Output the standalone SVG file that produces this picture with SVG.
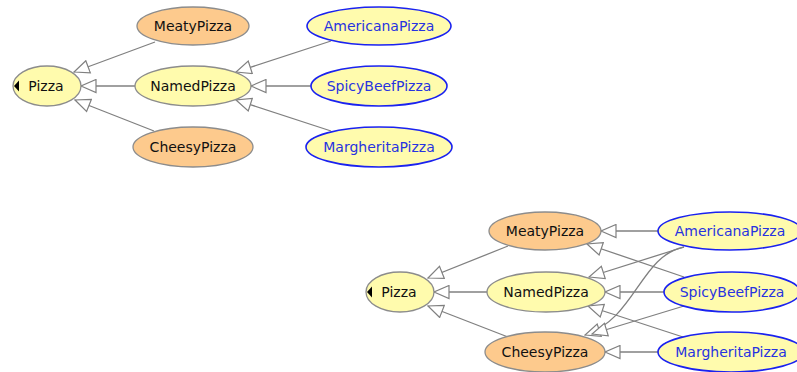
<svg xmlns="http://www.w3.org/2000/svg" width="797" height="372" viewBox="0 0 797 372">
  <style>
    .edge { fill: none; stroke: #808080; stroke-width: 1.3; marker-end: url(#open); }
    .defined ellipse { fill: #fdca8d; stroke: #8c8c8c; stroke-width: 1.3; }
    .plain ellipse { fill: #fffbad; stroke: #8c8c8c; stroke-width: 1.3; }
    .prim ellipse { fill: #fffbad; stroke: #1a22f0; stroke-width: 1.6; }
    text { font-family: "DejaVu Sans", "Liberation Sans", sans-serif; font-size: 14px; text-anchor: middle; fill: #111; }
    .prim text { fill: #2733e0; }
    .tri { fill: #000; }
  </style>
  <defs>
    <marker id="open" markerUnits="userSpaceOnUse" markerWidth="17" markerHeight="15" viewBox="-1 -1 17 15" refX="15" refY="6.5" orient="auto">
      <path d="M15,6.5 L0,0 L0,13 Z" fill="#fff" stroke="#808080" stroke-width="1.2" stroke-linejoin="miter"/>
    </marker>
  </defs>

  <!-- subclass links -->
  <g id="connectors">
    <path class="edge" d="M155,42 L74,72"/>
    <path class="edge" d="M135,86 L81,86"/>
    <path class="edge" d="M154,131 L75,100"/>
    <path class="edge" d="M331,41 L236,72"/>
    <path class="edge" d="M311,86 L251,86"/>
    <path class="edge" d="M331,131 L236,100"/>

    <path class="edge" d="M508,246 L428,278"/>
    <path class="edge" d="M487,292 L434,292"/>
    <path class="edge" d="M508,337 L428,306"/>
    <path class="edge" d="M658,231 L601,231"/>
    <path class="edge" d="M684,247 L589,277"/>
    <path class="edge" d="M684,247 C640,256 636,318 585,335"/>
    <path class="edge" d="M684,277 L587,244"/>
    <path class="edge" d="M664,292 L605,292"/>
    <path class="edge" d="M684,306 L592,334"/>
    <path class="edge" d="M683,337 L588,306"/>
    <path class="edge" d="M658,352 L605,352"/>
  </g>

  <!-- upper hierarchy -->
  <g id="pizza1" class="plain">
    <ellipse cx="47" cy="86" rx="34" ry="20"/>
    <path class="tri" d="M14,86 L19,80.5 L19,91.5 Z"/>
    <text x="46" y="91">Pizza</text>
  </g>
  <g id="meaty1" class="defined">
    <ellipse cx="193" cy="26" rx="56" ry="19"/>
    <text x="193" y="31">MeatyPizza</text>
  </g>
  <g id="named1" class="plain">
    <ellipse cx="193" cy="86" rx="58" ry="20"/>
    <text x="193" y="91">NamedPizza</text>
  </g>
  <g id="cheesy1" class="defined">
    <ellipse cx="193" cy="147" rx="60" ry="20"/>
    <text x="193" y="152">CheesyPizza</text>
  </g>
  <g id="americana1" class="prim">
    <ellipse cx="379" cy="26" rx="72" ry="19"/>
    <text x="379" y="31">AmericanaPizza</text>
  </g>
  <g id="spicybeef1" class="prim">
    <ellipse cx="379" cy="86" rx="68" ry="20"/>
    <text x="379" y="91">SpicyBeefPizza</text>
  </g>
  <g id="margherita1" class="prim">
    <ellipse cx="379" cy="147" rx="73" ry="20"/>
    <text x="379" y="152">MargheritaPizza</text>
  </g>

  <!-- lower hierarchy -->
  <g id="pizza2" class="plain">
    <ellipse cx="400" cy="292" rx="34" ry="20"/>
    <path class="tri" d="M367,292 L372,286.5 L372,297.5 Z"/>
    <text x="399" y="297">Pizza</text>
  </g>
  <g id="meaty2" class="defined">
    <ellipse cx="545" cy="231" rx="56" ry="19"/>
    <text x="545" y="236">MeatyPizza</text>
  </g>
  <g id="named2" class="plain">
    <ellipse cx="546" cy="292" rx="59" ry="20"/>
    <text x="546" y="297">NamedPizza</text>
  </g>
  <g id="cheesy2" class="defined">
    <ellipse cx="545" cy="352" rx="60" ry="20"/>
    <text x="545" y="357">CheesyPizza</text>
  </g>
  <g id="americana2" class="prim">
    <ellipse cx="730" cy="231" rx="72" ry="19"/>
    <text x="730" y="236">AmericanaPizza</text>
  </g>
  <g id="spicybeef2" class="prim">
    <ellipse cx="732" cy="292" rx="68" ry="20"/>
    <text x="732" y="297">SpicyBeefPizza</text>
  </g>
  <g id="margherita2" class="prim">
    <ellipse cx="731" cy="352" rx="73" ry="20"/>
    <text x="731" y="357">MargheritaPizza</text>
  </g>
</svg>
